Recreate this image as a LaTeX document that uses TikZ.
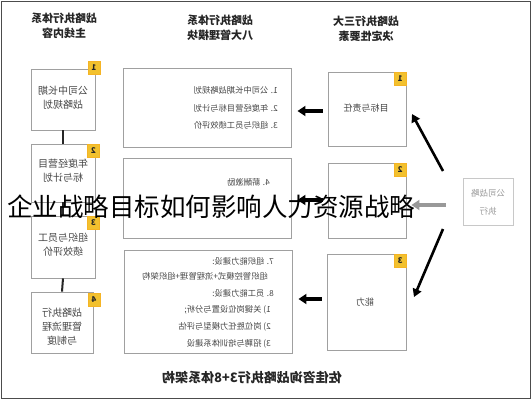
\documentclass[tikz,border=0pt]{standalone}
\usepackage{fontspec}
\setmainfont{Noto Sans CJK SC}
\newfontfamily\titlefont{Noto Sans CJK SC}
\usetikzlibrary{arrows.meta}
\newcommand\mir[1]{\reflectbox{#1}}
\definecolor{boxline}{RGB}{160,160,160}
\definecolor{badgefill}{RGB}{242,193,46}
\definecolor{txtgray}{RGB}{70,70,70}
\definecolor{lightline}{RGB}{200,200,200}
\begin{document}
\begin{tikzpicture}[x=1pt,y=-1pt,
  box/.style={draw=boxline,line width=0.9pt,fill=white,inner sep=0pt},
  badge/.style={fill=badgefill,draw=badgefill!80!orange,line width=0.4pt,minimum width=12pt,minimum height=13pt,inner sep=0pt,font=\fontsize{8}{8}\selectfont\bfseries,text=black!85},
  head/.style={align=center,font=\fontsize{11}{15}\selectfont\bfseries,text=black!85},
  boxtxt/.style={align=center,font=\fontsize{10}{14}\selectfont,text=txtgray},
  listtxt/.style={anchor=east,inner sep=0pt,font=\fontsize{8.3}{10}\selectfont,text=txtgray},
  link/.style={line width=2pt,draw=black!85},
  bigarrow/.style={line width=3.2pt,draw=black,-{Triangle[length=8pt,width=10pt]}},
  diagarrow/.style={line width=2.6pt,draw=black,-{Triangle[length=8pt,width=9pt]}},
  grayarrow/.style={line width=3.2pt,draw=black!40,-{Triangle[length=8pt,width=10pt]}}]
\useasboundingbox (0,0) rectangle (532,400);
\fill[white] (0,0) rectangle (532,400);
\draw[black!70,line width=1.4pt] (1.5,1.2) rectangle (530.5,398.5);

% headers
\node[head] (hl) at (64,26) {\mir{战略执行体系}\\\mir{主线内容}};
\node[head] (hm) at (220,28) {\mir{战略执行体系}\\\mir{八大管理模块}};
\node[head] (hr) at (366,29) {\mir{战略执行三大}\\\mir{决定性要素}};

% left column
\node[box,minimum width=64pt,minimum height=61pt] (l1) at (63,99.5) {};
\node[boxtxt] (l1t) at (63,98) {\mir{公司中长期}\\\mir{战略规划}};
\node[box,minimum width=64pt,minimum height=58pt] (l2) at (63,173) {};
\node[boxtxt] (l2t) at (63,171) {\mir{年度经营目}\\\mir{标与计划}};
\node[box,minimum width=64pt,minimum height=62pt] (l3) at (63,247) {};
\node[boxtxt] (l3t) at (63,245) {\mir{组织与员工}\\\mir{绩效评价}};
\node[box,minimum width=62pt,minimum height=61pt] (l4) at (62,322.5) {};
\node[boxtxt] (l4t) at (62,326.5) {\mir{战略执行}\\\mir{管理流程}\\\mir{与制度}};
\draw[link] (l1.south) -- (l2.north);
\draw[link] (l2.south) -- (l3.north);
\draw[link] (l3.south) -- (l4.north);
\node[badge] (bl1) at (94,68) {\mir{1}};
\node[badge] (bl2) at (93.5,151) {\mir{2}};
\node[badge] (bl3) at (93.5,223) {\mir{3}};
\node[badge] (bl4) at (94,300) {\mir{4}};

% middle column
\node[box,minimum width=168pt,minimum height=79pt] (m1) at (207,107.5) {};
\node[listtxt] (m1a) at (278,90) {\mir{1. 公司中长期战略规划}};
\node[listtxt] (m1b) at (278,108) {\mir{2. 年度经营目标与计划}};
\node[listtxt] (m1c) at (278,125) {\mir{3. 组织与员工绩效评价}};
\node[box,minimum width=168pt,minimum height=80pt] (m2) at (207,198) {};
\node[listtxt] (m2a) at (270,182) {\mir{4. 薪酬激励}};
\node[box,minimum width=168pt,minimum height=103pt] (m3) at (208,301.5) {};
\node[listtxt] (m3a) at (274,261) {\mir{7. 组织能力建设:}};
\node[listtxt] (m3b) at (268,276.5) {\mir{组织管控模式+流程管理+组织架构}};
\node[listtxt] (m3c) at (274,293) {\mir{8. 员工能力建设:}};
\node[listtxt] (m3d) at (271,310) {\mir{1) 关键岗位设置与分析;}};
\node[listtxt] (m3e) at (271,327) {\mir{2) 岗位胜任力模型与评估}};
\node[listtxt] (m3f) at (271,344) {\mir{3) 招聘与培训体系建设}};

% right column
\node[box,minimum width=78pt,minimum height=74pt] (r1) at (367,109) {};
\node[boxtxt,font=\fontsize{9}{12}\selectfont] (r1t) at (366,108.5) {\mir{目标与责任}};
\node[box,minimum width=78pt,minimum height=75pt] (r2) at (367,200.5) {};
\node[box,minimum width=79pt,minimum height=96pt] (r3) at (366.5,302) {};
\node[boxtxt,font=\fontsize{9}{12}\selectfont] (r3t) at (365,302) {\mir{能力}};
\node[badge,anchor=north east] (br1) at (r1.north east) {\mir{1}};
\node[badge,anchor=north east] (br2) at (r2.north east) {\mir{2}};
\node[badge,anchor=north east] (br3) at (r3.north east) {\mir{3}};

% far right
\node[draw=lightline,line width=0.9pt,minimum width=50pt,minimum height=47pt,inner sep=0pt] (far) at (488,201.5) {};
\node[align=center,font=\fontsize{8.5}{18}\selectfont,text=black!40] (fart) at (488,202) {\mir{公司战略}\\\mir{执行}};

% arrows
\draw[bigarrow,shorten <=5pt,shorten >=6pt] (r1.west |- 0,111) -- (m1.east |- 0,111);
\draw[bigarrow,shorten <=5pt,shorten >=6pt] (r2.west |- 0,200) -- (m2.east |- 0,200);
\draw[bigarrow,shorten <=5pt,shorten >=6pt] (r3.west |- 0,299) -- (m3.east |- 0,299);
\draw[grayarrow,shorten <=17pt,shorten >=5pt] (far.west |- 0,205) -- (r2.east |- 0,205);
\coordinate (d1s) at (443,171);
\coordinate (d1e) at (412,114);
\coordinate (d2s) at (443,229);
\coordinate (d2e) at (414,297);
\draw[diagarrow] (d1s) -- (d1e);
\draw[diagarrow] (d2s) -- (d2e);

% caption
\node[font=\fontsize{13}{13}\selectfont\bfseries,text=black!85] (cap) at (252,378) {\mir{佐佳咨询战略执行3+8体系架构}};

% overlay title
\node[font=\titlefont\fontsize{25.5}{26}\selectfont,text=black,inner sep=0pt] (title) at (211,207) {企业战略目标如何影响人力资源战略};
\end{tikzpicture}
\end{document}
